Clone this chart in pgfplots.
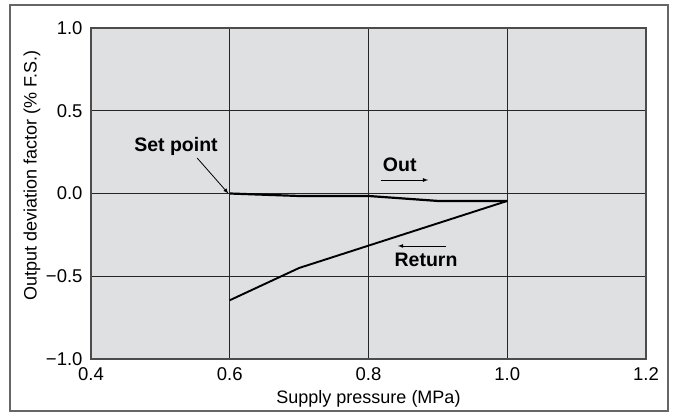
\documentclass[border=0pt]{standalone}
\usepackage{pgfplots}
\pgfplotsset{compat=1.18}
\usepackage{fontspec}
\setmainfont{Liberation Sans}
\definecolor{plotbg}{HTML}{DFE0E2}
\begin{document}
\begin{tikzpicture}
% page and outer frame
\fill[white] (-91bp,-55bp) rectangle (583bp,359bp);
\draw[black!60, line width=1.2bp] (-81bp,-52bp) rectangle (577bp,354bp);
\begin{axis}[
  scale only axis,
  width=555bp, height=331bp,
  xmin=0.4, xmax=1.2, ymin=-1, ymax=1,
  xtick={0.4,0.6,0.8,1.0,1.2},
  xticklabels={0.4,0.6,0.8,1.0,1.2},
  ytick={-1,-0.5,0,0.5,1},
  yticklabels={−1.0,−0.5,0.0,0.5,1.0},
  tick style={draw=none},
  axis background/.style={fill=plotbg},
  axis line style={black!70, line width=1.2bp},
  grid=major,
  major grid style={black!85, line width=1bp},
  ticklabel style={font=\fontsize{18.5bp}{21bp}\selectfont},
  xticklabel style={anchor=center, yshift=-15bp},
  yticklabel style={anchor=east, xshift=-5bp},
  label style={font=\fontsize{18bp}{21bp}\selectfont},
  xlabel={Supply pressure (MPa)},
  ylabel={Output deviation factor (\% F.S.)},
  xlabel style={at={(axis description cs:0.5,0)}, anchor=center, yshift=-40bp},
  ylabel style={at={(axis description cs:0,0.5)}, anchor=center, yshift=59bp, xshift=18bp},
  clip=false,
]
% Out
\addplot[black, line width=2.2bp] coordinates {
  (0.6,0.0) (0.7,-0.015) (0.8,-0.015) (0.9,-0.045) (1.0,-0.045)};
% Return
\addplot[black, line width=1.9bp] coordinates {
  (1.0,-0.045) (0.7,-0.45) (0.6,-0.645)};

\node[font=\bfseries\fontsize{19.5bp}{22bp}\selectfont] at (axis cs:0.5225,0.287) {Set point};
\draw[-latex, black, line width=0.8bp] (axis cs:0.553,0.2145) -- (axis cs:0.598,0.0);
\node[font=\bfseries\fontsize{19.5bp}{22bp}\selectfont] at (axis cs:0.845,0.172) {Out};
\draw[-latex, black, line width=0.8bp] (axis cs:0.818,0.0816) -- (axis cs:0.886,0.0816);
\node[font=\bfseries\fontsize{19.5bp}{22bp}\selectfont] at (axis cs:0.883,-0.402) {Return};
\draw[-latex, black, line width=0.8bp] (axis cs:0.912,-0.317) -- (axis cs:0.8425,-0.317);
\end{axis}
\end{tikzpicture}
\end{document}
